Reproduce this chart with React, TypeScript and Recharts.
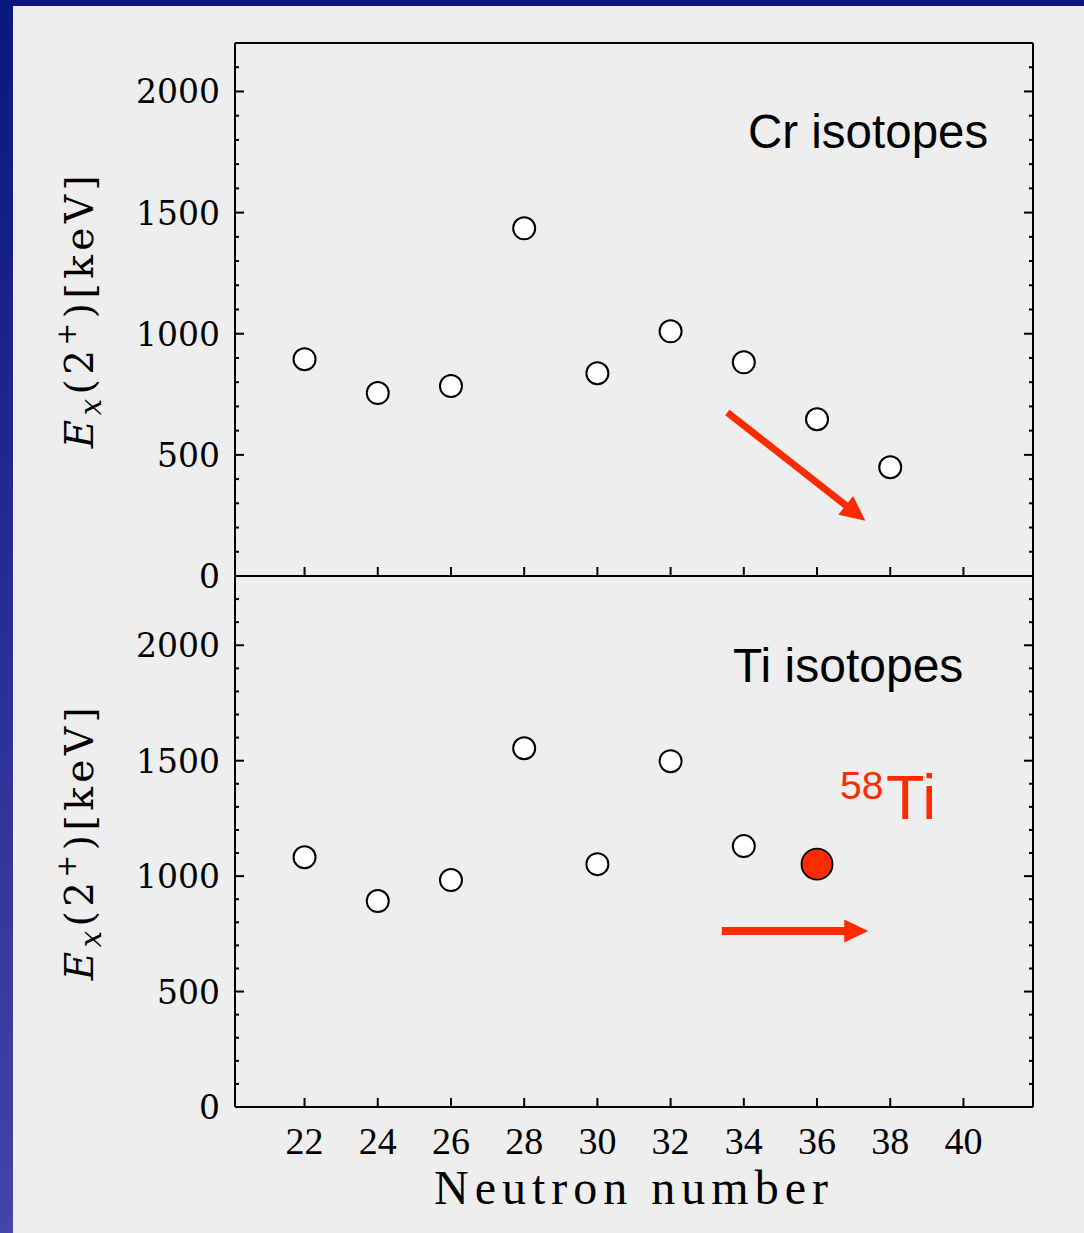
import React from 'react';
import { ScatterChart, Scatter, XAxis, YAxis, ReferenceLine } from 'recharts';

// neutron number axis
const neutronTicks = [22, 24, 26, 28, 30, 32, 34, 36, 38, 40];
const neutronDomain = [20.1, 41.9];

// E(2+) in keV, Cr isotopes
const crNeutrons = [22, 24, 26, 28, 30, 32, 34, 36, 38];
const crEnergies = [895, 755, 784, 1435, 837, 1010, 882, 647, 449];

// E(2+) in keV, Ti isotopes
const tiNeutrons = [22, 24, 26, 28, 30, 32, 34];
const tiEnergies = [1082, 892, 983, 1554, 1052, 1498, 1130];

// the new 58Ti point
const ti58Neutrons = [36];
const ti58Energies = [1052];

// trend arrows (start, tip)
const crArrow = [{ n: 33.55, e: 675 }, { n: 37.32, e: 228 }];
const tiArrow = [{ n: 33.4, e: 762 }, { n: 37.4, e: 762 }];

const yLabelValues = [0, 500, 1000, 1500, 2000];
const yTicksCr = [0, 100, 200, 300, 400, 500, 600, 700, 800, 900, 1000, 1100, 1200, 1300, 1400, 1500, 1600, 1700, 1800, 1900, 2000, 2100, 2200];
const yTicksTi = [0, 100, 200, 300, 400, 500, 600, 700, 800, 900, 1000, 1100, 1200, 1300, 1400, 1500, 1600, 1700, 1800, 1900, 2000, 2100, 2200, 2300];

const RED = '#ff2a00';
const SERIF = '"DejaVu Serif", "Liberation Serif", serif';
const SANS = '"Liberation Sans", Arial, sans-serif';

const toPoints = (xs: number[], ys: number[]) => xs.map((n, i) => ({ n, e: ys[i] }));

const crData = toPoints(crNeutrons, crEnergies);
const tiData = toPoints(tiNeutrons, tiEnergies);
const ti58Data = toPoints(ti58Neutrons, ti58Energies);

const isMajor = (v: number) => yLabelValues.includes(v);

const LeftTick = (props: any) => {
  const { x, y, payload } = props;
  const major = isMajor(payload.value);
  return (
    <g>
      <line x1={x} y1={y} x2={x + (major ? 9 : 4)} y2={y} stroke="#000" strokeWidth={2} />
      {major && (
        <text x={x - 15} y={y + 12} textAnchor="end" fontFamily={SERIF} fontSize={33} fill="#000">
          {payload.value}
        </text>
      )}
    </g>
  );
};

const RightTick = (props: any) => {
  const { x, y, payload } = props;
  const major = isMajor(payload.value);
  return <line x1={x} y1={y} x2={x - (major ? 9 : 4)} y2={y} stroke="#000" strokeWidth={2} />;
};

const TopTick = (props: any) => {
  const { x, y } = props;
  return <line x1={x} y1={y} x2={x} y2={y + 9} stroke="#000" strokeWidth={2} />;
};

const BottomTick = (props: any) => {
  const { x, y } = props;
  return <line x1={x} y1={y} x2={x} y2={y - 9} stroke="#000" strokeWidth={2} />;
};

const BottomTickLabel = (props: any) => {
  const { x, y, payload } = props;
  return (
    <g>
      <line x1={x} y1={y} x2={x} y2={y - 9} stroke="#000" strokeWidth={2} />
      <text x={x} y={y + 47} textAnchor="middle" fontFamily='"Liberation Serif", serif' fontSize={38} fill="#000">
        {payload.value}
      </text>
    </g>
  );
};

const YTitle = (props: any) => {
  const vb = props.viewBox;
  const cx = vb.x - 42;
  const cy = vb.y + vb.height / 2;
  return (
    <text
      x={cx}
      y={cy}
      transform={`rotate(-90, ${cx}, ${cy})`}
      textAnchor="middle"
      fontFamily={SERIF}
      fontSize={39}
      letterSpacing={4.5}
      fill="#000"
    >
      <tspan fontStyle="italic">E</tspan>
      <tspan fontStyle="italic" fontSize={29} dy={8}>x</tspan>
      <tspan dy={-8}>(2</tspan>
      <tspan fontSize={27} dy={-17}>+</tspan>
      <tspan dy={17}>)[keV]</tspan>
    </text>
  );
};

const OpenDot = (props: any) => (
  <circle cx={props.cx} cy={props.cy} r={11} fill="#fff" stroke="#000" strokeWidth={2} />
);

const RedDot = (props: any) => (
  <circle cx={props.cx} cy={props.cy} r={15.5} fill={RED} stroke="#000" strokeWidth={1.8} />
);

const arrowShape = (headLen: number, headHalf: number, width: number) => (p: any) => {
  const { x1, y1, x2, y2 } = p;
  const dx = x2 - x1;
  const dy = y2 - y1;
  const len = Math.hypot(dx, dy) || 1;
  const ux = dx / len;
  const uy = dy / len;
  const bx = x2 - ux * headLen;
  const by = y2 - uy * headLen;
  const px = -uy;
  const py = ux;
  return (
    <g>
      <line x1={x1} y1={y1} x2={bx + ux * 2} y2={by + uy * 2} stroke={RED} strokeWidth={width} />
      <polygon
        points={`${x2},${y2} ${bx + px * headHalf},${by + py * headHalf} ${bx - px * headHalf},${by - py * headHalf}`}
        fill={RED}
      />
    </g>
  );
};

const axisLine = { stroke: '#000', strokeWidth: 2 };

const App: React.FC = () => {
  return (
    <div
      style={{
        position: 'absolute',
        left: 0,
        top: 0,
        width: 1084,
        height: 1233,
        background: 'linear-gradient(to bottom, #0a1680, #4444aa)',
        overflow: 'hidden',
      }}
    >
      <div style={{ position: 'absolute', left: 13, top: 6, right: 0, bottom: 0, background: '#eeeeee' }} />

      {/* Cr panel */}
      <div style={{ position: 'absolute', left: 0, top: 0 }}>
        <ScatterChart width={1084} height={600} margin={{ top: 42, right: 50, bottom: 23, left: 135 }}>
          <XAxis
            xAxisId={0}
            type="number"
            dataKey="n"
            domain={neutronDomain}
            ticks={neutronTicks}
            interval={0}
            allowDataOverflow
            height={1}
            tickSize={0}
            tickMargin={0}
            tickLine={false}
            axisLine={axisLine}
            tick={<BottomTick />}
          />
          <XAxis
            xAxisId="top"
            orientation="top"
            type="number"
            domain={neutronDomain}
            ticks={neutronTicks}
            interval={0}
            allowDataOverflow
            height={1}
            tickSize={0}
            tickMargin={0}
            tickLine={false}
            axisLine={axisLine}
            tick={<TopTick />}
          />
          <YAxis
            yAxisId={0}
            type="number"
            dataKey="e"
            domain={[0, 2200]}
            ticks={yTicksCr}
            interval={0}
            allowDataOverflow
            width={100}
            tickSize={0}
            tickMargin={0}
            tickLine={false}
            axisLine={axisLine}
            tick={<LeftTick />}
            label={<YTitle />}
          />
          <YAxis
            yAxisId="right"
            orientation="right"
            type="number"
            domain={[0, 2200]}
            ticks={yTicksCr}
            interval={0}
            allowDataOverflow
            width={1}
            tickSize={0}
            tickMargin={0}
            tickLine={false}
            axisLine={axisLine}
            tick={<RightTick />}
          />
          <ReferenceLine
            segment={[{ x: crArrow[0].n, y: crArrow[0].e }, { x: crArrow[1].n, y: crArrow[1].e }]}
            ifOverflow="visible"
            shape={arrowShape(25, 12, 7)}
          />
          <Scatter data={crData} isAnimationActive={false} shape={OpenDot} />
        </ScatterChart>
      </div>

      {/* Ti panel */}
      <div style={{ position: 'absolute', left: 0, top: 575 }}>
        <ScatterChart width={1084} height={658} margin={{ top: 0, right: 50, bottom: 29, left: 135 }}>
          <XAxis
            xAxisId={0}
            type="number"
            dataKey="n"
            domain={neutronDomain}
            ticks={neutronTicks}
            interval={0}
            allowDataOverflow
            height={97}
            tickSize={0}
            tickMargin={0}
            tickLine={false}
            axisLine={axisLine}
            tick={<BottomTickLabel />}
            label={{
              value: 'Neutron number',
              position: 'insideBottom',
              offset: 0,
              fontFamily: '"Liberation Serif", serif',
              fontSize: 48,
              letterSpacing: 6,
              fill: '#000',
            }}
          />
          <XAxis
            xAxisId="top"
            orientation="top"
            type="number"
            domain={neutronDomain}
            ticks={neutronTicks}
            interval={0}
            allowDataOverflow
            height={1}
            tickSize={0}
            tickMargin={0}
            tickLine={false}
            axisLine={axisLine}
            tick={<TopTick />}
          />
          <YAxis
            yAxisId={0}
            type="number"
            dataKey="e"
            domain={[0, 2300]}
            ticks={yTicksTi}
            interval={0}
            allowDataOverflow
            width={100}
            tickSize={0}
            tickMargin={0}
            tickLine={false}
            axisLine={axisLine}
            tick={<LeftTick />}
            label={<YTitle />}
          />
          <YAxis
            yAxisId="right"
            orientation="right"
            type="number"
            domain={[0, 2300]}
            ticks={yTicksTi}
            interval={0}
            allowDataOverflow
            width={1}
            tickSize={0}
            tickMargin={0}
            tickLine={false}
            axisLine={axisLine}
            tick={<RightTick />}
          />
          <ReferenceLine
            segment={[{ x: tiArrow[0].n, y: tiArrow[0].e }, { x: tiArrow[1].n, y: tiArrow[1].e }]}
            ifOverflow="visible"
            shape={arrowShape(24, 11.5, 8)}
          />
          <Scatter data={tiData} isAnimationActive={false} shape={OpenDot} />
          <Scatter data={ti58Data} isAnimationActive={false} shape={RedDot} />
        </ScatterChart>
      </div>

      {/* annotations */}
      <svg
        width={1084}
        height={1233}
        style={{ position: 'absolute', left: 0, top: 0, pointerEvents: 'none' }}
      >
        <text x={748} y={148} fontFamily={SANS} fontSize={47.5} fill="#000">Cr isotopes</text>
        <text x={733} y={682} fontFamily={SANS} fontSize={48} fill="#000">Ti isotopes</text>
        <text x={840} y={799} fontFamily={SANS} fontSize={39} fill={RED}>58</text>
        <text x={886} y={819} fontFamily={SANS} fontSize={63} fill={RED}>Ti</text>
      </svg>
    </div>
  );
};

export default App;
